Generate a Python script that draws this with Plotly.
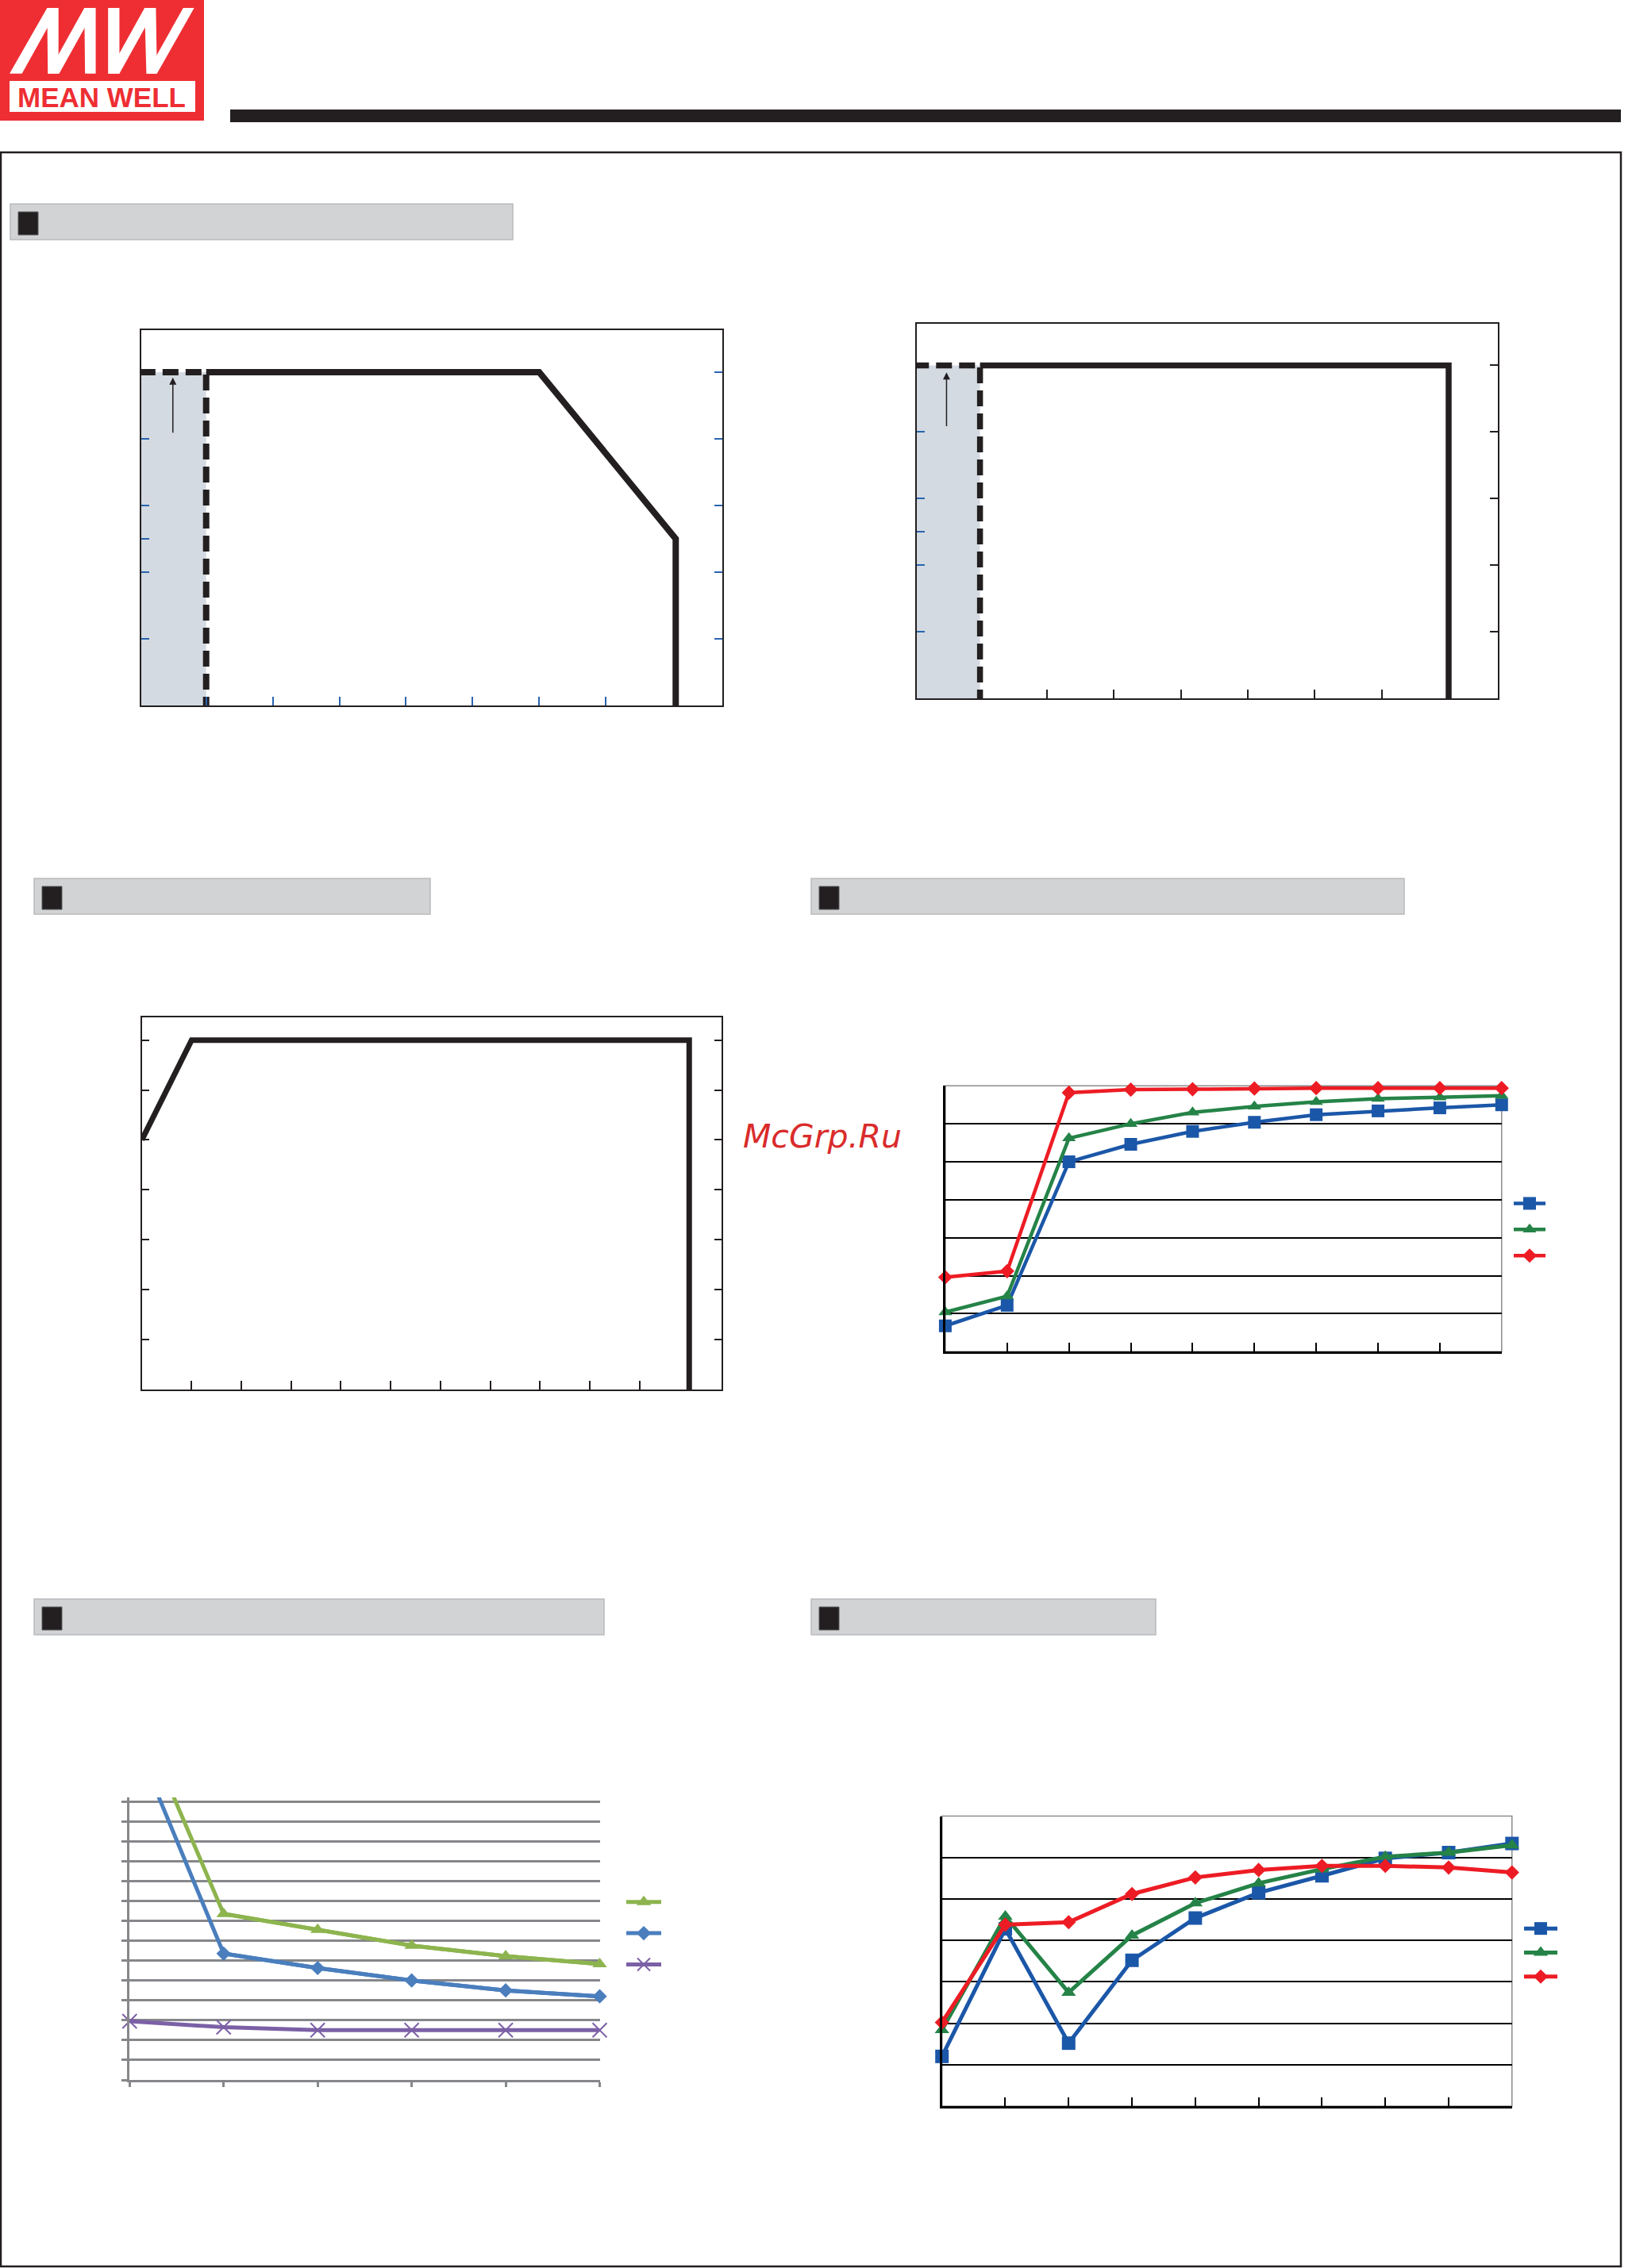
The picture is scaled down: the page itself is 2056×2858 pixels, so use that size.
import plotly.graph_objects as go

W, H = 2056, 2858

# ---------------- data ----------------
# Derating curve 1 : ambient temperature (°C) vs load (%)
temp_dash_1 = [-10, 0, 0]
load_dash_1 = [100, 100, 0]
temp_solid_1 = [0, 50, 70.5, 70.5]
load_solid_1 = [100, 100, 50, 0]
arrow_temp_1 = -5
arrow_from_1, arrow_to_1 = 81.5, 98.4

# Derating curve 2
temp_dash_2 = [-10, 0, 0]
load_dash_2 = [100, 100, 0]
temp_solid_2 = [0, 70, 70]
load_solid_2 = [100, 100, 0]
arrow_temp_2 = -5
arrow_from_2, arrow_to_2 = 81.4, 97.9

temp_ticks = [0, 10, 20, 30, 40, 50, 60]
load_ticks_left = [20, 40, 50, 60, 80]
load_ticks_right = [20, 40, 60, 80, 100]

# Output derating vs input voltage : VAC vs load (%)
vin_volt = [80, 100, 300, 300]
vin_load = [80, 100, 100, 30]
vin_ticks = [100, 120, 140, 160, 180, 200, 220, 240, 260, 280]
vin_load_ticks = [40, 50, 60, 70, 80, 90, 100]

# Power factor vs load (%)
pf_load = [10, 20, 30, 40, 50, 60, 70, 80, 90, 100]
pf_blue = [0.684, 0.711, 0.900, 0.923, 0.940, 0.952, 0.962, 0.967, 0.971, 0.975]
pf_green = [0.702, 0.723, 0.931, 0.950, 0.965, 0.973, 0.979, 0.983, 0.985, 0.987]
pf_red = [0.748, 0.756, 0.991, 0.995, 0.9955, 0.9965, 0.997, 0.997, 0.997, 0.997]

# THD (%) vs load (%)
thd_load = [50, 60, 70, 80, 90, 100]
thd_green = [38.8, 16.7, 15.1, 13.5, 12.45, 11.65]
thd_blue = [35.5, 12.7, 11.25, 10.0, 9.0, 8.4]
thd_purple = [5.9, 5.3, 5.0, 5.0, 5.0, 5.0]
thd_ticks = [0, 2, 4, 6, 8, 10, 12, 14, 16, 18, 20, 22, 24, 26, 28]

# Efficiency (%) vs load (%)
eff_load = [10, 20, 30, 40, 50, 60, 70, 80, 90, 100]
eff_blue = [66.0, 81.4, 67.6, 77.6, 82.7, 85.75, 87.8, 89.9, 90.6, 91.7]
eff_green = [69.2, 82.9, 73.7, 80.6, 84.5, 86.9, 88.6, 90.1, 90.6, 91.5]
eff_red = [70.1, 81.9, 82.2, 85.6, 87.6, 88.5, 89.0, 89.0, 88.8, 88.2]

# ---------------- styles ----------------
DARK = "#231f20"
TICKBLUE = "#2a64b0"
SHADE = "#d3dae1"
C_BLUE = "#1b57a8"
C_GREEN = "#258347"
C_RED = "#ed1c24"
T_GREEN = "#8db44e"
T_BLUE = "#4a7ebd"
T_PURPLE = "#7b60a6"
GREY = "#86878a"
LOGO_RED = "#ee2e33"


def X(px):
    return px / W


def Y(py):
    return 1 - py / H


fig = go.Figure()

# ---- derating curve 1 ----
fig.add_trace(go.Scatter(x=temp_dash_1, y=load_dash_1, mode="lines", xaxis="x", yaxis="y",
                         line=dict(color=DARK, width=8, dash="20px,9px"), showlegend=False, hoverinfo="skip"))
fig.add_trace(go.Scatter(x=temp_solid_1, y=load_solid_1, mode="lines", xaxis="x", yaxis="y2",
                         line=dict(color=DARK, width=8), showlegend=False, hoverinfo="skip"))
# ---- derating curve 2 ----
fig.add_trace(go.Scatter(x=temp_dash_2, y=load_dash_2, mode="lines", xaxis="x2", yaxis="y3",
                         line=dict(color=DARK, width=7.5, dash="20px,9px"), showlegend=False, hoverinfo="skip"))
fig.add_trace(go.Scatter(x=temp_solid_2, y=load_solid_2, mode="lines", xaxis="x2", yaxis="y4",
                         line=dict(color=DARK, width=7.5), showlegend=False, hoverinfo="skip"))
# ---- output derating vs input voltage ----
fig.add_trace(go.Scatter(x=vin_volt, y=vin_load, mode="lines", xaxis="x3", yaxis="y5",
                         line=dict(color=DARK, width=7), showlegend=False, hoverinfo="skip"))

# ---- PF ----
fig.add_trace(go.Scatter(x=pf_load, y=pf_blue, mode="lines+markers", xaxis="x4", yaxis="y6", name=" ",
                         line=dict(color=C_BLUE, width=4.5), marker=dict(symbol="square", size=16, color=C_BLUE),
                         cliponaxis=False, legend="legend"))
fig.add_trace(go.Scatter(x=pf_load, y=pf_green, mode="lines+markers", xaxis="x4", yaxis="y6", name=" ",
                         line=dict(color=C_GREEN, width=4.5), marker=dict(symbol="triangle-up", size=15, color=C_GREEN),
                         cliponaxis=False, legend="legend"))
fig.add_trace(go.Scatter(x=pf_load, y=pf_red, mode="lines+markers", xaxis="x4", yaxis="y6", name=" ",
                         line=dict(color=C_RED, width=4.5), marker=dict(symbol="diamond", size=14, color=C_RED),
                         cliponaxis=False, legend="legend"))

# ---- THD ----
# full curves (first point lies above the plotted range and is clipped)
for vals, col in [(thd_green, T_GREEN), (thd_blue, T_BLUE)]:
    fig.add_trace(go.Scatter(x=thd_load, y=vals, mode="lines", xaxis="x5", yaxis="y7",
                             line=dict(color=col, width=5), showlegend=False, hoverinfo="skip"))
fig.add_trace(go.Scatter(x=thd_load[1:], y=thd_green[1:], mode="lines+markers", xaxis="x5", yaxis="y7", name=" ",
                         line=dict(color=T_GREEN, width=5),
                         marker=dict(symbol="triangle-up", size=16, color=T_GREEN),
                         cliponaxis=False, legend="legend2"))
fig.add_trace(go.Scatter(x=thd_load[1:], y=thd_blue[1:], mode="lines+markers", xaxis="x5", yaxis="y7", name=" ",
                         line=dict(color=T_BLUE, width=5),
                         marker=dict(symbol="diamond", size=14, color=T_BLUE),
                         cliponaxis=False, legend="legend2"))
fig.add_trace(go.Scatter(x=thd_load, y=thd_purple, mode="lines+markers", xaxis="x5", yaxis="y7", name=" ",
                         line=dict(color=T_PURPLE, width=5),
                         marker=dict(symbol="x-thin-open", size=18, color=T_PURPLE, line=dict(width=2, color=T_PURPLE)),
                         cliponaxis=False, legend="legend2"))

# ---- Efficiency ----
fig.add_trace(go.Scatter(x=eff_load, y=eff_blue, mode="lines+markers", xaxis="x6", yaxis="y8", name=" ",
                         line=dict(color=C_BLUE, width=5), marker=dict(symbol="square", size=17, color=C_BLUE),
                         cliponaxis=False, legend="legend3"))
fig.add_trace(go.Scatter(x=eff_load, y=eff_green, mode="lines+markers", xaxis="x6", yaxis="y8", name=" ",
                         line=dict(color=C_GREEN, width=5), marker=dict(symbol="triangle-up", size=16, color=C_GREEN),
                         cliponaxis=False, legend="legend3"))
fig.add_trace(go.Scatter(x=eff_load, y=eff_red, mode="lines+markers", xaxis="x6", yaxis="y8", name=" ",
                         line=dict(color=C_RED, width=5), marker=dict(symbol="diamond", size=14, color=C_RED),
                         cliponaxis=False, legend="legend3"))

base = dict(showgrid=False, zeroline=False, showticklabels=False, fixedrange=True)
box = dict(showline=True, linecolor=DARK, linewidth=2, mirror=True)

layout_axes = dict(
    # derating 1
    xaxis=dict(base, **box, domain=[X(178), X(910)], range=[-9.74, 77.5], anchor="y",
               ticks="inside", tickvals=temp_ticks, ticklen=11, tickwidth=1.5, tickcolor=TICKBLUE),
    yaxis=dict(base, **box, domain=[Y(889), Y(416)], range=[0, 112.6], anchor="x",
               ticks="inside", tickvals=load_ticks_left, ticklen=10, tickwidth=1.5, tickcolor=TICKBLUE),
    yaxis2=dict(base, overlaying="y", side="right", anchor="x", range=[0, 112.6],
                ticks="inside", tickvals=load_ticks_right, ticklen=10, tickwidth=1.5, tickcolor=TICKBLUE),
    # derating 2
    xaxis2=dict(base, **box, domain=[X(1154.5), X(1887)], range=[-9.5, 77.35], anchor="y3",
                ticks="inside", tickvals=temp_ticks, ticklen=11, tickwidth=1.5, tickcolor=DARK),
    yaxis3=dict(base, **box, domain=[Y(880), Y(408)], range=[0, 112.5], anchor="x2",
                ticks="inside", tickvals=load_ticks_left, ticklen=10, tickwidth=1.5, tickcolor=TICKBLUE),
    yaxis4=dict(base, overlaying="y3", side="right", anchor="x2", range=[0, 112.5],
                ticks="inside", tickvals=load_ticks_right, ticklen=10, tickwidth=1.5, tickcolor=DARK),
    # input voltage derating
    xaxis3=dict(base, **box, domain=[X(178.7), X(909)], range=[80, 313], anchor="y5",
                ticks="inside", tickvals=vin_ticks, ticklen=11, tickwidth=1.5, tickcolor=DARK),
    yaxis5=dict(base, showline=True, linecolor=DARK, linewidth=2, mirror="ticks",
                domain=[Y(1751), Y(1281.7)], range=[30, 104.6], anchor="x3",
                ticks="inside", tickvals=vin_load_ticks, ticklen=9, tickwidth=1.5, tickcolor=DARK),
    # PF
    xaxis4=dict(base, showline=True, linecolor="black", linewidth=3, domain=[X(1190.9), X(1891.8)],
                range=[10, 100], anchor="y6", ticks="inside", tickvals=pf_load, ticklen=11, tickwidth=2,
                tickcolor="black"),
    yaxis6=dict(base, showline=True, linecolor="black", linewidth=3, domain=[Y(1703.3), Y(1368.3)],
                range=[0.65, 1.0], anchor="x4", showgrid=True, gridcolor="black", gridwidth=2,
                tick0=0.65, dtick=0.05),
    # THD
    xaxis5=dict(base, showline=True, linecolor=GREY, linewidth=3, domain=[X(163.3), X(755.5)],
                range=[50, 100], anchor="y7", ticks="outside", tickvals=thd_load, ticklen=6, tickwidth=2.5,
                tickcolor=GREY),
    yaxis7=dict(base, showline=True, linecolor=GREY, linewidth=3, domain=[Y(2621), Y(2265)],
                range=[0, 28.4], anchor="x5", ticks="outside", tickvals=thd_ticks, ticklen=7, tickwidth=2.5,
                tickcolor=GREY, showgrid=True, gridcolor=GREY, gridwidth=2.5),
    # Efficiency
    xaxis6=dict(base, showline=True, linecolor="black", linewidth=3, domain=[X(1186.7), X(1904.8)],
                range=[10, 100], anchor="y8", ticks="inside", tickvals=eff_load, ticklen=11, tickwidth=2,
                tickcolor="black"),
    yaxis8=dict(base, showline=True, linecolor="black", linewidth=3, domain=[Y(2654), Y(2288.6)],
                range=[60, 95], anchor="x6", showgrid=True, gridcolor="black", gridwidth=2,
                tick0=60, dtick=5),
)

shapes = []


def prect(x0, y0, x1, y1, fill, line_color=None, lw=0):
    shapes.append(dict(type="rect", xref="paper", yref="paper", x0=X(x0), x1=X(x1), y0=Y(y1), y1=Y(y0),
                       fillcolor=fill, line=dict(color=line_color or fill, width=lw), layer="above"))


# logo
prect(0, 0, 257, 152, LOGO_RED)
prect(12, 102, 246, 141, "white")
mw_polys = [
    [(27, 278), (62, 278), (165, 30), (133, 30)],
    [(133, 30), (165, 30), (165, 278), (135, 278)],
    [(135, 278), (167, 278), (270, 30), (238, 30)],
    [(238, 30), (270, 30), (270, 278), (240, 278)],
    [(305, 30), (337, 30), (337, 278), (305, 278)],
    [(305, 278), (337, 278), (440, 30), (408, 30)],
    [(408, 30), (440, 30), (443, 278), (413, 278)],
    [(413, 278), (443, 278), (548, 30), (517, 30)],
]
for poly in mw_polys:
    pts = [(X(px / 2.24), Y(py / 3.0)) for px, py in poly]
    path = "M " + " L ".join(f"{a:.5f},{b:.5f}" for a, b in pts) + " Z"
    shapes.append(dict(type="path", xref="paper", yref="paper", path=path, fillcolor="white",
                       line=dict(width=0), layer="above"))
# header bar
prect(290, 138, 2042, 154, DARK)
# page frame
shapes.append(dict(type="rect", xref="paper", yref="paper", x0=X(1), x1=X(2042), y0=Y(2856), y1=Y(192),
                   line=dict(color=DARK, width=2.5), fillcolor="rgba(0,0,0,0)", layer="below"))
# section headers
headers = [(13, 257, 646, 302), (43, 1107, 542, 1152), (1022, 1107, 1769, 1152),
           (43, 2015, 761, 2060), (1022, 2015, 1456, 2060)]
for x0, y0, x1, y1 in headers:
    prect(x0, y0, x1, y1, "#d1d3d4", "#b9bbbd", 1.5)
    prect(x0 + 10, y0 + 10, x0 + 35, y0 + 39, DARK, "#58595b", 1)

# shaded start-up regions in derating curves
shapes.append(dict(type="rect", xref="x", yref="y", x0=-9.74, x1=0, y0=0, y1=100,
                   fillcolor=SHADE, line=dict(width=0), layer="below"))
shapes.append(dict(type="rect", xref="x2", yref="y3", x0=-9.5, x1=0, y0=0, y1=100,
                   fillcolor=SHADE, line=dict(width=0), layer="below"))
# grey frames of Excel plots
for xr, yr in [("x4", "y6"), ("x6", "y8")]:
    shapes.append(dict(type="rect", xref=f"{xr} domain", yref=f"{yr} domain", x0=0, x1=1, y0=0, y1=1,
                       line=dict(color="#8d8d8d", width=1.5), fillcolor="rgba(0,0,0,0)", layer="below"))

annotations = [
    dict(x=arrow_temp_1, y=arrow_to_1, ax=arrow_temp_1, ay=arrow_from_1, xref="x", yref="y", axref="x", ayref="y",
         text="", showarrow=True, arrowhead=2, arrowsize=1.2, arrowwidth=1.5, arrowcolor=DARK, standoff=0),
    dict(x=arrow_temp_2, y=arrow_to_2, ax=arrow_temp_2, ay=arrow_from_2, xref="x2", yref="y3", axref="x2",
         ayref="y3", text="", showarrow=True, arrowhead=2, arrowsize=1.2, arrowwidth=1.5, arrowcolor=DARK,
         standoff=0),
    dict(x=X(128), y=Y(122), xref="paper", yref="paper", text="<b>MEAN WELL</b>", showarrow=False,
         font=dict(family="Liberation Sans Narrow, Liberation Sans", size=35, color=LOGO_RED),
         xanchor="center", yanchor="middle"),
    dict(x=X(934), y=Y(1432), xref="paper", yref="paper", text="McGrp.Ru", showarrow=False,
         font=dict(family="DejaVu Sans", size=41, color="#d92b2b", style="italic"),
         xanchor="left", yanchor="middle"),
]

leg_common = dict(xanchor="left", yanchor="top", bgcolor="rgba(0,0,0,0)", borderwidth=0,
                  traceorder="normal", orientation="v")

fig.update_layout(
    width=W, height=H, margin=dict(l=0, r=0, t=0, b=0, pad=0),
    paper_bgcolor="white", plot_bgcolor="white",
    shapes=shapes, annotations=annotations,
    legend=dict(leg_common, x=X(1902), y=Y(1495), font=dict(size=23), itemwidth=40),
    legend2=dict(leg_common, x=X(784), y=Y(2372), font=dict(size=28), itemwidth=44),
    legend3=dict(leg_common, x=X(1915), y=Y(2410), font=dict(size=21), itemwidth=42),
    showlegend=True,
    **layout_axes,
)

fig.write_html("out.html", config=dict(displayModeBar=False),
               post_script="document.body.style.margin='0';document.body.style.overflow='hidden';")
